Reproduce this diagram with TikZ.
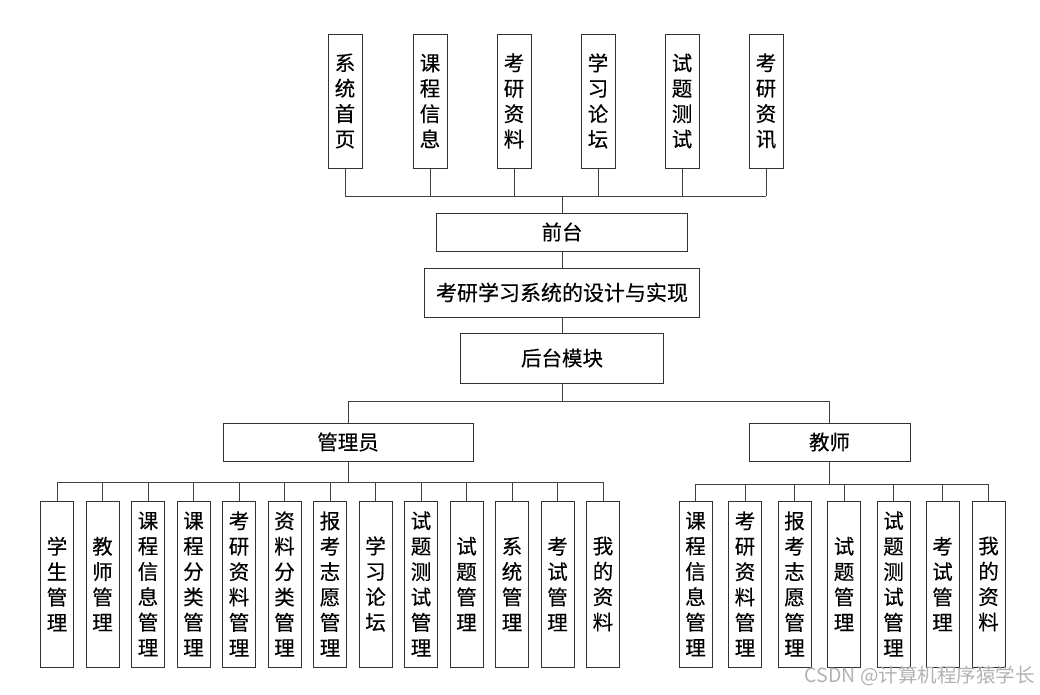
\documentclass[tikz,border=0pt]{standalone}
\usepackage{fontspec}
\newfontfamily\cjk[FakeBold=0.3]{Noto Sans CJK SC}
\newfontfamily\wmfont{Noto Sans CJK SC}
\tikzset{
  box/.style={draw=black!80, line width=1pt, inner sep=0pt, align=center,
    font=\cjk\fontsize{20.5}{25.4}\selectfont},
  topbox/.style={box, minimum width=34pt, minimum height=134pt},
  lowbox/.style={box, minimum width=33pt, minimum height=166pt},
  wire/.style={draw=black!75, line width=1pt}
}
\begin{document}
\begin{tikzpicture}[x=1pt,y=-1pt]
\useasboundingbox (0,0) rectangle (1040,694);
% top level
\node[topbox] (t1) at (345,101) {系\\统\\首\\页};
\node[topbox] (t2) at (430,101) {课\\程\\信\\息};
\node[topbox] (t3) at (514,101) {考\\研\\资\\料};
\node[topbox] (t4) at (598,101) {学\\习\\论\\坛};
\node[topbox] (t5) at (682,101) {试\\题\\测\\试};
\node[topbox] (t6) at (766,101) {考\\研\\资\\讯};
\node[box, minimum width=251pt, minimum height=38pt] (qt) at (562,232) {前台};
\node[box, minimum width=275pt, minimum height=49pt, font=\cjk\fontsize{21}{25}\selectfont] (main) at (562,292.5) {考研学习系统的设计与实现};
\node[box, minimum width=203pt, minimum height=50pt] (ht) at (562,358) {后台模块};
\node[box, minimum width=250pt, minimum height=38pt] (gly) at (348,442) {管理员};
\node[box, minimum width=161pt, minimum height=38pt] (js) at (829.5,442) {教师};
% admin children
\node[lowbox] (a1) at (57,584) {学\\生\\管\\理};
\node[lowbox] (a2) at (102.5,584) {教\\师\\管\\理};
\node[lowbox] (a3) at (148,584) {课\\程\\信\\息\\管\\理};
\node[lowbox] (a4) at (193.5,584) {课\\程\\分\\类\\管\\理};
\node[lowbox] (a5) at (239,584) {考\\研\\资\\料\\管\\理};
\node[lowbox] (a6) at (284.5,584) {资\\料\\分\\类\\管\\理};
\node[lowbox] (a7) at (330,584) {报\\考\\志\\愿\\管\\理};
\node[lowbox] (a8) at (375.5,584) {学\\习\\论\\坛};
\node[lowbox] (a9) at (421,584) {试\\题\\测\\试\\管\\理};
\node[lowbox] (a10) at (466.5,584) {试\\题\\管\\理};
\node[lowbox] (a11) at (512,584) {系\\统\\管\\理};
\node[lowbox] (a12) at (557.5,584) {考\\试\\管\\理};
\node[lowbox] (a13) at (603,584) {我\\的\\资\\料};
% teacher children
\node[lowbox] (b1) at (695.5,584) {课\\程\\信\\息\\管\\理};
\node[lowbox] (b2) at (745,584) {考\\研\\资\\料\\管\\理};
\node[lowbox] (b3) at (794.5,584) {报\\考\\志\\愿\\管\\理};
\node[lowbox] (b4) at (844,584) {试\\题\\管\\理};
\node[lowbox] (b5) at (893.5,584) {试\\题\\测\\试\\管\\理};
\node[lowbox] (b6) at (942.5,584) {考\\试\\管\\理};
\node[lowbox] (b7) at (988.5,584) {我\\的\\资\\料};
% bus coordinates
\coordinate (topbus) at (562,196);
\coordinate (midbus) at (562,401);
\coordinate (abus) at (348,482);
\coordinate (bbus) at (829.5,484);
% top connectors
\foreach \n in {t1,t2,t3,t4,t5,t6} \draw[wire] (\n.south) -- (\n.south |- topbus);
\draw[wire] (t1.south |- topbus) -- (t6.south |- topbus);
\draw[wire] (topbus) -- (qt.north);
\draw[wire] (qt.south) -- (main.north);
\draw[wire] (main.south) -- (ht.north);
\draw[wire] (ht.south) -- (midbus);
\draw[wire] (gly.north |- midbus) -- (js.north |- midbus);
\draw[wire] (gly.north |- midbus) -- (gly.north);
\draw[wire] (js.north |- midbus) -- (js.north);
% admin
\draw[wire] (gly.south) -- (abus);
\draw[wire] (a1.north |- abus) -- (a13.north |- abus);
\foreach \n in {a1,a2,a3,a4,a5,a6,a7,a8,a9,a10,a11,a12,a13} \draw[wire] (\n.north |- abus) -- (\n.north);
% teacher
\draw[wire] (js.south) -- (bbus);
\draw[wire] (b1.north |- bbus) -- (b7.north |- bbus);
\foreach \n in {b1,b2,b3,b4,b5,b6,b7} \draw[wire] (\n.north |- bbus) -- (\n.north);
% watermark
\node[text=black!30, font=\wmfont\fontsize{19.5}{22}\selectfont, inner sep=0pt, anchor=east] (wm) at (1035,676) {CSDN @计算机程序猿学长};
\end{tikzpicture}
\end{document}
